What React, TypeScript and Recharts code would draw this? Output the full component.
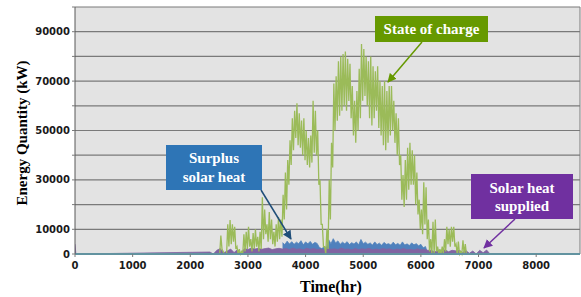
import {
  ComposedChart,
  Line,
  Area,
  XAxis,
  YAxis,
  CartesianGrid,
  ReferenceLine,
} from "recharts";

// hours of the year on the x axis
const X_MAX = 8760;
const X_TICKS = [0, 1000, 2000, 3000, 4000, 5000, 6000, 7000, 8000];
const Y_GRID = [0, 10000, 20000, 30000, 40000, 50000, 60000, 70000, 80000, 90000, 100000];
const Y_LABELED = [0, 10000, 30000, 50000, 70000, 90000];

// state of charge, thousands of kW: the hourly trace swings between a high and
// a low reading inside every 40 h window, starting at 2490 h
const SOC_START = 2490;
const SOC_STEP = 40;
const SOC_HIGH_K = [
  0, 7.5, 1, 0, 12, 13.8, 12, 11, 3, 2,
  1, 8, 9, 11, 6, 8.5, 10, 7, 9, 23,
  18, 12, 17, 14, 9, 12, 15, 14, 24, 33,
  38, 46, 55, 58, 61, 57, 54, 55, 50, 47,
  48, 62, 58, 50, 30, 12, 3, 10, 30, 45,
  69, 72, 78, 80, 81, 82, 79, 77, 68, 62,
  66, 75, 85, 83, 80, 78, 80, 76, 74, 76,
  70, 68, 70, 66, 68, 68, 62, 57, 55, 40,
  32, 38, 43, 45, 42, 40, 33, 22, 18, 29,
  27, 14, 6, 13, 14, 3, 2, 3, 6, 11,
  10, 11, 11, 4, 5, 1, 5.5, 4, 0,
];
const SOC_LOW_K = [
  0, 2, 0, 0, 3, 4, 5, 2, 0, 0,
  0, 1, 2, 3, 1, 2, 3, 1, 2, 6,
  8, 5, 6, 4, 3, 5, 6, 7, 14, 18,
  28, 36, 42, 47, 44, 43, 40, 38, 36, 35,
  37, 41, 40, 28, 12, 3, 0, 2, 14, 35,
  50, 54, 56, 58, 60, 58, 62, 55, 48, 45,
  50, 55, 62, 64, 60, 55, 52, 55, 58, 51,
  48, 44, 42, 45, 48, 50, 45, 40, 36, 22,
  19, 22, 26, 28, 28, 20, 16, 10, 8, 12,
  6, 1, 0, 0, 1, 0, 0, 0, 1, 4,
  3, 5, 3, 0, 0, 0, 0, 0, 0,
];

// surplus solar heat, thousands of kW, every 40 h from 3600 h
const SURPLUS_START = 3600;
const SURPLUS_STEP = 40;
const SURPLUS_K = [
  4.6, 3.8, 5.2, 4.0, 5.0, 3.9, 4.8, 4.2, 5.4, 3.7, 4.9, 4.1, 5.1, 3.9, 4.7, 4.3,
  2.6, 2.2, 2.8, 2.4,
  5.8, 4.2, 6.2, 4.5, 5.3, 3.9, 4.8, 4.1, 5.0, 3.8, 4.6, 4.0, 4.9, 3.7, 5.9, 4.2, 4.8, 3.9,
  4.5, 3.6, 4.9, 3.8, 4.4, 3.5, 4.7, 3.9, 4.2, 3.6, 4.8, 3.7,
  4.3, 3.5, 4.9, 3.6, 4.1, 3.4, 4.5, 3.7, 4.2, 3.3, 3.9, 2.5, 3.0, 0,
];

// solar heat supplied, thousands of kW
const SUPPLIED_EARLY_HOURS = [0, 15];
const SUPPLIED_EARLY_K = [4, 0];
const SUPPLIED_START = 2340;
const SUPPLIED_STEP = 60;
const SUPPLIED_K = [
  0.8, 0, 1.5, 2.2, 0.5, 1.2, 2.0, 0.6, 1.8, 0.4,
  2.2, 1.8, 2.4, 2.0, 2.3, 1.9, 2.2, 2.4, 1.8, 2.1, 2.3, 2.0,
  2.2, 1.8, 2.4, 1.9, 2.1, 1.7,
  2.3, 1.9, 2.2, 1.8, 2.0, 1.6,
  2.3, 1.9, 2.1, 1.8, 2.4, 1.9,
  2.0, 1.7, 2.2, 1.8, 2.1, 1.9,
  2.3, 1.7, 2.0, 1.8, 2.2, 1.9,
  2.1, 1.6, 2.0, 1.8, 2.2, 1.7,
  1.9, 1.6, 2.1, 1.7, 1.8, 1.5,
  1.5, 0.8, 1.6, 1.2, 1.7, 0.9, 1.5, 1.3, 1.6, 0.6,
  1.4, 0.3, 1.2, 0, 1.5, 0.5, 1.6, 0,
];

// the flat series lying on the axis
const BASE_HOURS = [0, X_MAX];
const BASE_K = [0, 0];

function stepped(start: number, step: number, vals: number[]) {
  return vals.map((v, i) => ({ h: start + i * step, v: v * 1000 }));
}

function swinging(start: number, step: number, highs: number[], lows: number[]) {
  return highs.flatMap((hi, i) => [
    { h: start + i * step, v: hi * 1000 },
    { h: start + i * step + step / 2, v: lows[i] * 1000 },
  ]);
}

function paired(hours: number[], vals: number[]) {
  return vals.map((v, i) => ({ h: hours[i], v: v * 1000 }));
}

const socData = swinging(SOC_START, SOC_STEP, SOC_HIGH_K, SOC_LOW_K);
const surplusData = stepped(SURPLUS_START, SURPLUS_STEP, SURPLUS_K);
const suppliedData = [
  ...paired(SUPPLIED_EARLY_HOURS, SUPPLIED_EARLY_K),
  ...stepped(SUPPLIED_START, SUPPLIED_STEP, SUPPLIED_K),
];
const baseData = paired(BASE_HOURS, BASE_K);

const TICK_FONT = { fontFamily: "DejaVu Sans", fontWeight: 700, fontSize: 10, fill: "#1a1a1a" };
const SERIF = "'Liberation Serif', 'Times New Roman', serif";
const GRID = "#7a7a7a";

function YTick(props: any) {
  const { x, y, payload } = props;
  if (!Y_LABELED.includes(payload.value)) return null;
  return (
    <text x={x} y={y} dy={3.5} textAnchor="end" {...TICK_FONT}>
      {payload.value}
    </text>
  );
}

function Callout({
  x, y, w, h, color, lines, baselines,
}: {
  x: number; y: number; w: number; h: number; color: string; lines: string[]; baselines: number[];
}) {
  return (
    <g>
      <rect x={x} y={y} width={w} height={h} fill={color} />
      {lines.map((t, i) => (
        <text
          key={t}
          x={x + w / 2}
          y={baselines[i]}
          textAnchor="middle"
          fill="#fff"
          fontFamily={SERIF}
          fontWeight={700}
          fontSize={15}
        >
          {t}
        </text>
      ))}
    </g>
  );
}

export default function App() {
  return (
    <div style={{ position: "absolute", left: 0, top: 0, width: 581, height: 297, background: "#fff" }}>
      <ComposedChart width={581} height={297} margin={{ top: 7, right: 1, bottom: 0, left: 0 }}>
        <CartesianGrid vertical={false} fill="#e3e3e3" stroke={GRID} strokeWidth={1.2} />
        <XAxis
          type="number"
          dataKey="h"
          domain={[0, X_MAX]}
          ticks={X_TICKS}
          height={43}
          tick={{ ...TICK_FONT, dy: 3 }}
          tickSize={3}
          tickLine={{ stroke: GRID }}
          axisLine={{ stroke: GRID }}
          allowDataOverflow
        />
        <YAxis
          type="number"
          domain={[0, 100000]}
          ticks={Y_GRID}
          width={75}
          tick={<YTick />}
          tickSize={3}
          tickLine={{ stroke: GRID }}
          axisLine={{ stroke: "#595959" }}
          interval={0}
        />
        <ReferenceLine x={X_MAX} stroke={GRID} />
        <Area
          data={surplusData}
          dataKey="v"
          type="linear"
          stroke="#4f81bd"
          strokeWidth={0.8}
          fill="#4f81bd"
          fillOpacity={1}
          isAnimationActive={false}
          dot={false}
        />
        <Line
          data={socData}
          dataKey="v"
          type="linear"
          stroke="#9bbb59"
          strokeWidth={1.3}
          dot={false}
          isAnimationActive={false}
        />
        <Area
          data={suppliedData}
          dataKey="v"
          type="linear"
          stroke="#8064a2"
          strokeWidth={0.8}
          fill="#8064a2"
          fillOpacity={1}
          isAnimationActive={false}
          dot={false}
        />
        <Line
          data={baseData}
          dataKey="v"
          type="linear"
          stroke="#4bacc6"
          strokeWidth={2}
          dot={false}
          isAnimationActive={false}
        />
      </ComposedChart>

      <svg
        width={581}
        height={297}
        style={{ position: "absolute", left: 0, top: 0, pointerEvents: "none" }}
      >
        <defs>
          {[
            ["arrGreen", "#669900"],
            ["arrBlue", "#1f4e79"],
            ["arrPurple", "#7030a0"],
          ].map(([id, c]) => (
            <marker key={id} id={id} viewBox="0 0 10 10" refX="9" refY="5" markerWidth="6" markerHeight="6" orient="auto">
              <path d="M0,0 L10,5 L0,10 z" fill={c} />
            </marker>
          ))}
        </defs>
        <text
          transform="translate(27,133) rotate(-90)"
          textAnchor="middle"
          fontFamily={SERIF}
          fontWeight={700}
          fontSize={15}
          fill="#000"
        >
          Energy Quantity (kW)
        </text>
        <text x={331} y={292} textAnchor="middle" fontFamily={SERIF} fontWeight={700} fontSize={16} fill="#000">
          Time(hr)
        </text>

        <line x1={422} y1={42} x2={388} y2={82} stroke="#669900" strokeWidth={1.5} markerEnd="url(#arrGreen)" />
        <Callout x={375} y={16} w={113} h={26} color="#669900" lines={["State of charge"]} baselines={[34]} />

        <line x1={261} y1={190} x2={291} y2={239} stroke="#1f4e79" strokeWidth={1.5} markerEnd="url(#arrBlue)" />
        <Callout x={166} y={145} w={96} h={45} color="#2e75b6" lines={["Surplus", "solar heat"]} baselines={[163, 182]} />

        <line x1={515} y1={219} x2={484} y2={248} stroke="#7030a0" strokeWidth={1.5} markerEnd="url(#arrPurple)" />
        <Callout x={471} y={174} w={102} h={45} color="#7030a0" lines={["Solar heat", "supplied"]} baselines={[193, 211]} />
      </svg>
    </div>
  );
}
